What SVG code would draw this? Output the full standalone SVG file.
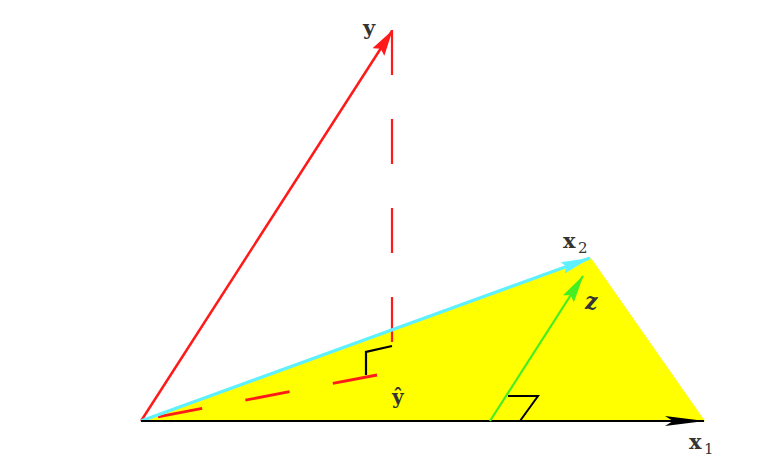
<svg xmlns="http://www.w3.org/2000/svg" width="776" height="474" viewBox="0 0 776 474">
<style>
.lbl{font-family:"DejaVu Serif","Liberation Serif",serif;font-weight:bold;fill:#333;}
.sub{font-family:"DejaVu Serif","Liberation Serif",serif;fill:#333;}
</style>
<defs>
<marker id="mRed" viewBox="0 0 26 14" refX="25" refY="7" markerWidth="26" markerHeight="14" markerUnits="userSpaceOnUse" orient="auto"><path d="M0,0 L26,7 L0,14 L4,7 Z" fill="#ff1a1a"/></marker>
<marker id="mCyan" viewBox="0 0 30 12" refX="29" refY="6" markerWidth="30" markerHeight="12" markerUnits="userSpaceOnUse" orient="auto"><path d="M0,0 L30,6 L0,12 L4,6 Z" fill="#5ff0ff"/></marker>
<marker id="mGreen" viewBox="0 0 28 13" refX="27" refY="6.5" markerWidth="28" markerHeight="13" markerUnits="userSpaceOnUse" orient="auto"><path d="M0,0 L28,6.5 L0,13 L4,6.5 Z" fill="#44ee22"/></marker>
<marker id="mBlack" viewBox="0 0 40 10" refX="39" refY="5" markerWidth="40" markerHeight="10" markerUnits="userSpaceOnUse" orient="auto"><path d="M0,0 L40,5 L0,10 L8,5 Z" fill="#000"/></marker>
</defs>
<g id="plane"><polygon points="141,421 591,258 705,421" fill="#ffff00"/></g>
<g id="connectors" fill="none" stroke-linecap="butt">
<line x1="141" y1="421" x2="392" y2="31" stroke="#ff1a1a" stroke-width="2.5" marker-end="url(#mRed)"/>
<line x1="392" y1="30" x2="392" y2="345" stroke="#ff1a1a" stroke-width="2.2" stroke-dasharray="45 44"/>
<line x1="377" y1="375" x2="141" y2="420" stroke="#ff1a1a" stroke-width="2.8" stroke-dasharray="45 44"/>
<polyline points="392,346 366,352 366,375" stroke="#000" stroke-width="2.2"/>
<line x1="141" y1="421" x2="590" y2="258" stroke="#5ff0ff" stroke-width="3.2" marker-end="url(#mCyan)"/>
<line x1="141" y1="421" x2="704" y2="421" stroke="#000" stroke-width="2.2" marker-end="url(#mBlack)"/>
<line x1="490" y1="421" x2="583" y2="276" stroke="#44ee22" stroke-width="2.2" marker-end="url(#mGreen)"/>
<polyline points="508,396 538,396 520,421" stroke="#000" stroke-width="2"/>
</g>
<g id="labels">
<text class="lbl" x="363" y="35" font-size="21">y</text>
<text class="lbl" x="563" y="248" font-size="21">x</text><text class="sub" x="578" y="253" font-size="15">2</text>
<text class="lbl" x="585" y="309" font-size="22" font-style="italic">z</text>
<text class="lbl" x="392" y="404" font-size="20">ŷ</text>
<text class="lbl" x="689" y="449" font-size="21">x</text><text class="sub" x="704" y="454" font-size="15">1</text>
</g>
</svg>
